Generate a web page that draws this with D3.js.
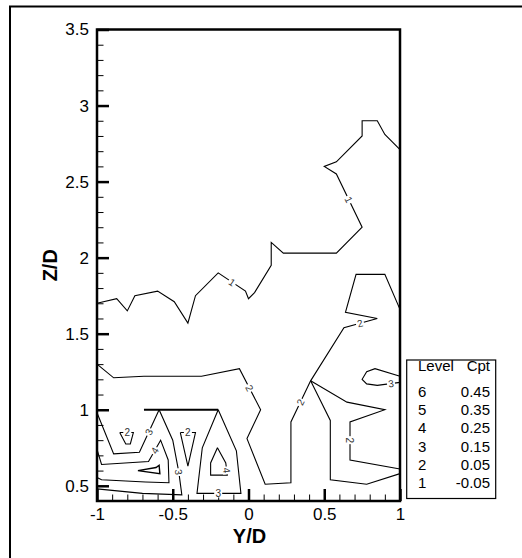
<!DOCTYPE html>
<html>
<head>
<meta charset="utf-8">
<script src="https://cdn.jsdelivr.net/npm/d3@7"></script>
<style>
  body { margin: 0; background: #fff; }
  svg { display: block; }
  text { font-family: "Liberation Sans", Arial, Helvetica, sans-serif; }
</style>
</head>
<body>
<svg id="chart" width="522" height="558"></svg>
<script>
// ---- Axis ticks ----
const xMajorTicks = [-1, -0.5, 0, 0.5, 1];
const xMinorTicks = d3.range(-0.9, 1.0, 0.1).map(v => +v.toFixed(1)).filter(v => !xMajorTicks.includes(v));
const yMajorTicks = [0.5, 1, 1.5, 2, 2.5, 3, 3.5];
const yMinorTicks = d3.range(0.4, 3.5, 0.1).map(v => +v.toFixed(1)).filter(v => !yMajorTicks.includes(v));

// ---- Contour lines, [Y/D, Z/D] ----
const contourLevel1 = [
  [-1.00, 1.70], [-0.87, 1.73], [-0.80, 1.65], [-0.75, 1.75], [-0.60, 1.78], [-0.49, 1.71],
  [-0.40, 1.57], [-0.35, 1.75], [-0.20, 1.90], [-0.02, 1.78], [0.00, 1.73], [0.04, 1.77],
  [0.15, 1.95], [0.15, 2.10], [0.23, 2.03], [0.58, 2.03], [0.75, 2.20], [0.58, 2.55],
  [0.50, 2.60], [0.58, 2.63], [0.75, 2.80], [0.75, 2.90], [0.85, 2.90], [0.90, 2.81], [1.00, 2.71]
];
const contourLevel2Main = [
  [-1.00, 1.30], [-0.89, 1.21], [-0.69, 1.22], [-0.31, 1.22], [-0.06, 1.27], [0.08, 1.00],
  [-0.01, 0.81], [0.11, 0.51], [0.28, 0.52], [0.28, 0.92], [0.41, 1.19], [0.63, 1.54],
  [0.85, 1.60], [0.64, 1.64], [0.71, 1.89], [0.90, 1.89], [1.00, 1.66]
];
const contourLevel2Right = [[0.41, 1.19], [0.65, 1.05], [0.90, 1.00], [0.67, 0.92], [0.67, 0.67], [1.00, 0.61]];
const contourRightLower = [[0.41, 1.19], [0.54, 0.93], [0.54, 0.54], [0.78, 0.51], [1.00, 0.58]];
const contourLevel3Right = [[1.00, 1.22], [0.835, 1.27], [0.78, 1.25], [0.75, 1.20], [0.78, 1.17], [0.85, 1.16], [1.00, 1.18]];
const contourLevel3Left = [[-1.00, 0.98], [-0.89, 0.71], [-0.72, 0.72], [-0.59, 1.00]];
const contourRidge = [[-0.69, 1.00], [-0.20, 1.00]];
const contourLevel3V = [[-0.59, 1.00], [-0.50, 0.80], [-0.46, 0.59], [-0.44, 0.44], [-0.70, 0.45], [-1.00, 0.48]];
const contourLevel4Left = [
  [-1.00, 0.74], [-0.97, 0.64], [-0.66, 0.66], [-0.58, 0.80], [-0.53, 0.67],
  [-0.525, 0.52], [-0.68, 0.525], [-0.97, 0.54], [-1.00, 0.555]
];
const contourWedge = [[-0.73, 0.60], [-0.61, 0.62], [-0.59, 0.635], [-0.585, 0.58], [-0.73, 0.60]];
const contourLevel2Trap = [[-0.85, 0.85], [-0.76, 0.85], [-0.78, 0.775], [-0.81, 0.775], [-0.85, 0.85]];
const contourLevel2Tri = [[-0.45, 0.85], [-0.35, 0.85], [-0.40, 0.63], [-0.45, 0.85]];
const contourLevel3A = [[-0.20, 1.00], [-0.08, 0.73], [-0.05, 0.45], [-0.34, 0.45], [-0.305, 0.75], [-0.20, 1.00]];
const contourLevel4Tri = [[-0.205, 0.75], [-0.25, 0.65], [-0.25, 0.57], [-0.14, 0.57], [-0.15, 0.65], [-0.205, 0.75]];

// ---- Contour labels: level number and approximate position ----
const labelLevels = [1, 1, 2, 2, 2, 2, 3, 3, 2, 4, 2, 3, 3, 4];
const labelY = [-0.11, 0.66, 0.00, 0.34, 0.735, 0.67, 0.94, -0.672, -0.80, -0.635, -0.40, -0.459, -0.20, -0.155];
const labelZ = [1.835, 2.38, 1.14, 1.05, 1.57, 0.80, 1.176, 0.86, 0.85, 0.74, 0.85, 0.59, 0.45, 0.60];

// ---- Legend ----
const legendLevels = [6, 5, 4, 3, 2, 1];
const legendCpt = ["0.45", "0.35", "0.25", "0.15", "0.05", "-0.05"];

const svg = d3.select("#chart");

// Outer page frame
svg.append("path")
  .attr("d", "M10,558 V6.5 H522")
  .attr("fill", "none").attr("stroke", "#000").attr("stroke-width", 2);

const x = d3.scaleLinear().domain([-1, 1]).range([97, 400]);
const y = d3.scaleLinear().domain([0.4, 3.5]).range([501, 29.5]);

// Axes: ticks point into the plot
const fmt = d => String(d);
const axisFont = 17;

const xMajor = svg.append("g").attr("transform", `translate(0,${y(0.4)})`)
  .call(d3.axisBottom(x).tickValues(xMajorTicks).tickSize(-12).tickPadding(7).tickFormat(fmt));
const xMinor = svg.append("g").attr("transform", `translate(0,${y(0.4)})`)
  .call(d3.axisBottom(x).tickValues(xMinorTicks).tickSize(-6.5).tickFormat(""));
const yMajor = svg.append("g").attr("transform", `translate(${x(-1)},0)`)
  .call(d3.axisLeft(y).tickValues(yMajorTicks).tickSize(-12).tickPadding(8).tickFormat(fmt));
const yMinor = svg.append("g").attr("transform", `translate(${x(-1)},0)`)
  .call(d3.axisLeft(y).tickValues(yMinorTicks).tickSize(-6.5).tickFormat(""));

[xMajor, xMinor, yMajor, yMinor].forEach(g => g.select(".domain").remove());
[xMajor, yMajor].forEach(g => {
  g.selectAll(".tick line").attr("stroke", "#000").attr("stroke-width", 2.5);
  g.selectAll(".tick text").attr("fill", "#000").style("font-size", axisFont + "px");
});
[xMinor, yMinor].forEach(g => g.selectAll(".tick line").attr("stroke", "#000").attr("stroke-width", 1));

// Contour lines
const line = d3.line().x(d => x(d[0])).y(d => y(d[1]));
const contours = [
  contourLevel1, contourLevel2Main, contourLevel2Right, contourRightLower, contourLevel3Right,
  contourLevel3Left, contourLevel3V, contourLevel4Left, contourLevel2Trap, contourLevel2Tri,
  contourLevel3A, contourLevel4Tri
];
const gLines = svg.append("g");
gLines.selectAll("path.c").data(contours).join("path")
  .attr("class", "c")
  .attr("d", line)
  .attr("fill", "none").attr("stroke", "#000").attr("stroke-width", 1.1)
  .attr("stroke-linejoin", "miter");
gLines.append("path").attr("d", line(contourRidge))
  .attr("fill", "none").attr("stroke", "#000").attr("stroke-width", 2.2);
gLines.append("path").attr("d", line(contourWedge))
  .attr("fill", "none").attr("stroke", "#000").attr("stroke-width", 1.4);

// Contour labels, snapped onto the nearest line segment and aligned with it
const segs = [];
contours.forEach(c => {
  for (let i = 0; i < c.length - 1; i++) {
    segs.push([x(c[i][0]), y(c[i][1]), x(c[i + 1][0]), y(c[i + 1][1])]);
  }
});
function snap(px, py) {
  let best = null;
  segs.forEach(([x1, y1, x2, y2]) => {
    const dx = x2 - x1, dy = y2 - y1;
    const L = dx * dx + dy * dy || 1;
    let t = ((px - x1) * dx + (py - y1) * dy) / L;
    t = Math.max(0, Math.min(1, t));
    const qx = x1 + t * dx, qy = y1 + t * dy;
    const dist = (qx - px) ** 2 + (qy - py) ** 2;
    if (!best || dist < best.dist) {
      let ang = Math.atan2(dy, dx) * 180 / Math.PI;
      if (ang > 90) ang -= 180;
      if (ang < -90) ang += 180;
      best = { qx, qy, ang, dist };
    }
  });
  return best;
}
const gLab = svg.append("g");
labelLevels.forEach((lv, i) => {
  const s = snap(x(labelY[i]), y(labelZ[i]));
  const g = gLab.append("g").attr("transform", `translate(${s.qx},${s.qy}) rotate(${s.ang})`);
  g.append("rect").attr("x", -4).attr("y", -4).attr("width", 8).attr("height", 8).attr("fill", "#fff");
  g.append("text").attr("text-anchor", "middle").attr("dy", "0.36em")
    .style("font-size", "10px").attr("fill", "#333").text(lv);
});

// Plot frame
svg.append("rect")
  .attr("x", x(-1)).attr("y", y(3.5))
  .attr("width", x(1) - x(-1)).attr("height", y(0.4) - y(3.5))
  .attr("fill", "none").attr("stroke", "#000").attr("stroke-width", 2.5);

// Axis titles
svg.append("text").attr("x", (x(-1) + x(1)) / 2 + 1).attr("y", 542.5)
  .attr("text-anchor", "middle").style("font-size", "20px").style("font-weight", "bold").text("Y/D");
svg.append("text").attr("transform", `translate(57,${y(1.95)}) rotate(-90)`)
  .attr("text-anchor", "middle").style("font-size", "20px").style("font-weight", "bold").text("Z/D");

// Legend
const lg = svg.append("g");
lg.append("rect").attr("x", 406.7).attr("y", 360).attr("width", 89).attr("height", 138.5)
  .attr("fill", "#fff").attr("stroke", "#000").attr("stroke-width", 1.2);
lg.append("text").attr("x", 418).attr("y", 371).style("font-size", "15px").text("Level");
lg.append("text").attr("x", 490).attr("y", 371).attr("text-anchor", "end").style("font-size", "15px").text("Cpt");
legendLevels.forEach((lv, i) => {
  const by = 397 + i * 18.2;
  lg.append("text").attr("x", 418).attr("y", by).style("font-size", "15px").text(lv);
  lg.append("text").attr("x", 490).attr("y", by).attr("text-anchor", "end").style("font-size", "15px").text(legendCpt[i]);
});
</script>
</body>
</html>
